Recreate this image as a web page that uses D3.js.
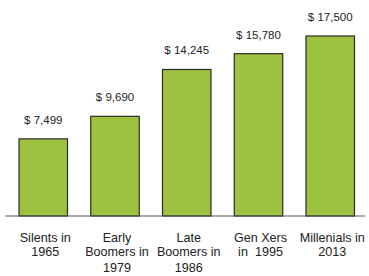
<!DOCTYPE html>
<html>
<head>
<meta charset="utf-8">
<script src="https://cdn.jsdelivr.net/npm/d3@7"></script>
<style>
  body { margin: 0; background: #fff; }
  text { font-family: "Liberation Sans", Arial, sans-serif; fill: #222; }
</style>
</head>
<body>
<svg id="chart"></svg>
<script>
// Chart data
const generations = ["Silents in 1965", "Early Boomers in 1979", "Late Boomers in 1986", "Gen Xers in 1995", "Millenials in 2013"];
const amounts = [7499, 9690, 14245, 15780, 17500];
const valueLabels = ["$ 7,499", "$ 9,690", "$ 14,245", "$ 15,780", "$ 17,500"];
// category labels broken into lines as shown under each bar
const labelLines = [
    ["Silents in", "1965"],
    ["Early", "Boomers in", "1979"],
    ["Late", "Boomers in", "1986"],
    ["Gen Xers", "in  1995"],
    ["Millenials in", "2013"]
];

const width = 369;
const height = 276;
const baseY = 216;

const svg = d3.select("#chart")
    .attr("width", width)
    .attr("height", height);

// x scale for bar slots
const x = d3.scaleBand()
    .domain(generations)
    .range([19, 354.5])
    .paddingInner(0.324)
    .paddingOuter(0);

// y scale, 0 at the baseline
const y = d3.scaleLinear()
    .domain([0, 17500])
    .range([baseY, 36]);

// bars
svg.selectAll("rect.bar")
    .data(amounts)
    .join("rect")
    .attr("class", "bar")
    .attr("x", (d, i) => x(generations[i]))
    .attr("y", d => y(d))
    .attr("width", x.bandwidth())
    .attr("height", d => baseY - y(d))
    .attr("fill", "#9dc23f")
    .attr("stroke", "#2b2b2b")
    .attr("stroke-width", 1.2);

// baseline
svg.append("line")
    .attr("x1", 5).attr("x2", 365)
    .attr("y1", baseY).attr("y2", baseY)
    .attr("stroke", "#555")
    .attr("stroke-width", 1.2);

// value labels above bars
svg.selectAll("text.value")
    .data(amounts)
    .join("text")
    .attr("class", "value")
    .attr("x", (d, i) => x(generations[i]) + x.bandwidth() / 2)
    .attr("y", d => y(d) - 15)
    .attr("text-anchor", "middle")
    .style("font-size", "11.5px")
    .text((d, i) => valueLabels[i]);

// category labels under the axis
const cats = svg.selectAll("text.cat")
    .data(generations)
    .join("text")
    .attr("class", "cat")
    .attr("x", d => x(d) + x.bandwidth() / 2 + 2)
    .attr("y", 241.5)
    .attr("text-anchor", "middle")
    .style("font-size", "12.6px");

cats.each(function (d, i) {
    const t = d3.select(this);
    labelLines[i].forEach((line, j) => {
        t.append("tspan")
            .attr("x", x(d) + x.bandwidth() / 2 + 2)
            .attr("dy", j === 0 ? 0 : (j === 1 ? 14.5 : 15.5))
            .style("white-space", "pre")
            .text(line);
    });
});
</script>
</body>
</html>
